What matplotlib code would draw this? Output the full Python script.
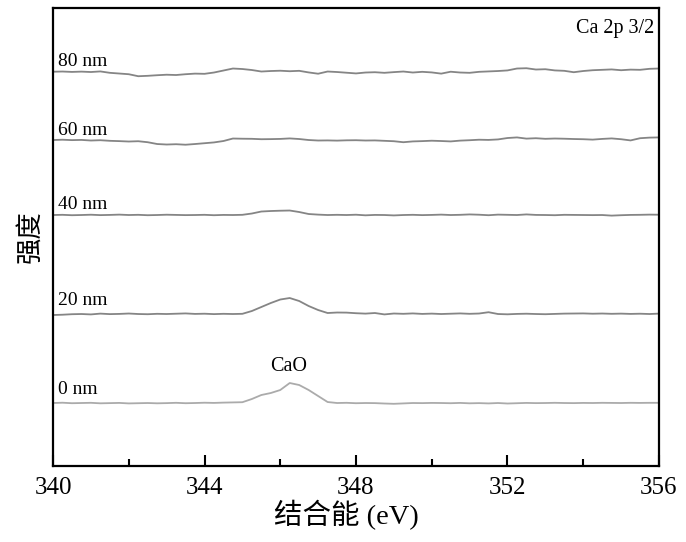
import numpy as np
import matplotlib
matplotlib.use("Agg")
import matplotlib.pyplot as plt
from matplotlib.ticker import MultipleLocator

plt.rcParams['font.family'] = ['Liberation Serif', 'Noto Sans CJK SC']

# binding energy grid (eV), 0.25 eV steps from 340 to 356
energy = np.arange(340, 356.001, 0.25)

# intensity traces (arbitrary units, stacked offsets included)
i_0nm = [63, 63.3, 62.8, 63, 63.2, 62.7, 62.9, 63.1, 62.6, 62.8, 63, 62.7, 62.9, 63.2, 62.8, 63,
         63.3, 63.1, 63.4, 63.6, 63.8,
         67, 71, 73, 76, 83, 81, 76, 70, 64,
         63, 63.2, 62.8, 63, 62.9, 62.5, 62.2, 62.6, 63, 62.9,
         63.1, 63, 62.8, 63.1, 62.7, 62.9, 62.6, 63, 62.5, 62.8,
         63.1, 62.9, 63, 63.2, 63, 62.9, 63.1, 63, 63.2, 63.1,
         63, 63.2, 63.1, 63.2, 63.2]
i_20nm = [151, 151.3, 151.8, 152, 151.6, 152.4, 151.9, 152.1, 152.5, 152, 151.8, 152.2, 152, 152.3,
          152.6, 152.1, 152.3, 151.9, 152.2, 152,
          152.2, 155, 159, 163, 166.5, 168, 165, 160, 156, 153,
          153.5, 153.4, 152.8, 152.4, 153, 151.6, 152.5, 152.2, 152.6, 152.1,
          152.4, 152, 152.3, 152.6, 152.2, 152.5, 153.8, 152, 151.7, 152.1,
          152.3, 152, 151.8, 152.1, 152.4, 152.5, 152.6, 152.3, 152.5, 152.2,
          152.4, 152.1, 152.3, 152, 152.4]
i_40nm = [251, 251.2, 250.8, 251, 251.3, 250.9, 251.1, 251.4, 251, 251.2, 250.8, 251, 251.3, 251.1,
          250.9, 251, 251.2, 250.8, 251.1, 251, 251.2,
          252.5, 254.5, 255, 255.3, 255.5, 254, 252,
          251.4, 251, 251.2, 251, 251.3, 250.7, 251.1, 251, 250.6, 251, 251.2, 250.9,
          251.1, 251.4, 251, 251.2, 251.6, 251.3, 250.8, 251.4, 251.2, 251, 251.6, 251.1,
          251, 250.8, 251.2, 251.1, 251, 250.9, 251, 250.4, 250.8, 251.1, 251.2, 251.4, 251.3]
i_60nm = [326, 326.3, 325.9, 326.1, 325.5, 325.8, 325.2, 324.9, 324.5, 324.8, 323.8, 322, 321.5,
          321.8, 321.3, 322,
          322.8, 323.6, 325, 327.5, 327.3, 327.2, 326.8, 326.9, 327.1, 327.6, 327, 326, 325.5,
          325.6, 325.4, 325.7,
          325.8, 325.5, 325.6, 325.2, 324.8, 323.8, 324.6, 324.9, 325.3, 325, 324.6, 325.4,
          325.8, 326.3, 326.1, 326.6,
          328, 328.6, 327.4, 327.8, 327.2, 327.5, 327.3, 327, 326.8, 326.4, 327.1, 327.6,
          326.8, 325.6, 327.8, 328.4,
          328.6]
i_80nm = [394.3, 394.5, 394.1, 394.4, 394, 394.6, 393.2, 392.5, 391.8, 389.8, 390.2, 390.8, 391.3,
          391, 391.8, 392.4,
          392.2, 393.5, 395.5, 397.5, 397, 396, 394.5, 395, 395.3, 394.8, 395.2, 393.6, 392.3,
          394.5, 394, 393.3,
          392.6, 393.5, 393.8, 393.2, 393.9, 394.5, 393.5, 394.2, 393.6, 392.4, 394.3, 393.5,
          393.2, 394.2, 394.6, 395,
          395.6, 397.5, 397.8, 396.5, 396.8, 395.6, 395.2, 393.8, 395, 395.8, 396.2, 396.6,
          395.8, 396.4, 396.2, 397.2,
          397.5]

depths = ['0 nm', '20 nm', '40 nm', '60 nm', '80 nm']
traces = [i_0nm, i_20nm, i_40nm, i_60nm, i_80nm]
line_colors = ['#ababab', '#858585', '#858585', '#858585', '#858585']
label_y = [77, 166, 262, 336, 405]

fig = plt.figure(figsize=(6.86, 5.42), dpi=100)
ax = fig.add_axes([0.0773, 0.1402, 0.8833, 0.845])

for name, y, c, ly in zip(depths, traces, line_colors, label_y):
    ax.plot(energy, y, color=c, lw=1.3)
    ax.text(340.12, ly, name, fontsize=14, va='center', ha='left')

ax.text(346.23, 100, 'CaO', fontsize=14.5, ha='center', va='center')
ax.text(0.992, 0.956, 'Ca 2p 3/2', transform=ax.transAxes, fontsize=14.5,
        ha='right', va='center')

ax.set_xlim(340, 356)
ax.set_ylim(0, 458)
ax.xaxis.set_major_locator(MultipleLocator(4))
ax.xaxis.set_minor_locator(MultipleLocator(2))
ax.tick_params(axis='x', which='major', direction='in', length=8, width=1.5,
               labelsize=18, pad=8)
ax.tick_params(axis='x', which='minor', direction='in', length=5, width=1.5)
ax.set_yticks([])
for s in ax.spines.values():
    s.set_linewidth(1.6)

ax.set_xlabel('结合能 (eV)', fontsize=20.5, labelpad=0)
ax.xaxis.set_label_coords(0.484, -0.075)
ax.set_ylabel('强度', fontsize=19, labelpad=8)

fig.savefig('out.png', dpi=100)
